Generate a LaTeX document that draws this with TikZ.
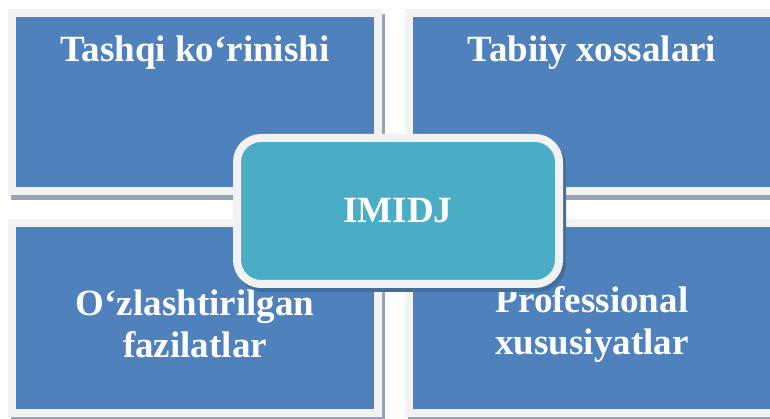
\documentclass[tikz,border=0pt]{standalone}
\usepackage{fontspec}
\setmainfont{Liberation Serif}
\usepackage{xcolor}
\usepackage{tikz}
\usetikzlibrary{shapes, shadows, positioning, calc}

\definecolor{boxblue}{HTML}{4F81BD}
\definecolor{edgegray}{HTML}{F2F2F2}
\definecolor{shadegray}{HTML}{97A4B5}
\definecolor{coreteal}{HTML}{4BACC6}
\definecolor{coreshade}{HTML}{41709C}

\begin{document}
\begin{tikzpicture}[x=1pt, y=-1pt,
    part/.style={rectangle, draw=edgegray, line width=8pt, fill=boxblue, inner sep=0pt, outer sep=0pt, minimum width=366pt,
        drop shadow={shadow xshift=2.5pt, shadow yshift=-5pt, fill=shadegray, draw=shadegray, line width=8pt, opacity=1}},
    core/.style={rectangle, rounded corners=24pt, draw=edgegray, line width=8pt, fill=coreteal, inner sep=0pt, outer sep=0pt,
        minimum width=322pt, minimum height=146pt,
        drop shadow={shadow xshift=3pt, shadow yshift=-4pt, fill=coreshade, draw=coreshade, line width=8pt, opacity=1}},
    caption/.style={text=white, font=\fontsize{37}{42}\selectfont\bfseries, align=center}]
    \useasboundingbox (0,0) rectangle (770,419);
    \clip (0,0) rectangle (770,419);

    % four quarters
    \node [part, minimum height=178.5pt] (look) at (195,102.25) {};
    \node [part, minimum height=178.5pt, right=31pt of look] (nature) {};
    \node [part, minimum height=189pt, below=32pt of look] (gained) {};
    \node [part, minimum height=189pt, right=31pt of gained] (profi) {};

    \node [caption, anchor=base] (looktext) at ($(look.north)+(0,49)$) {Tashqi ko‘rinishi};
    \node [caption, anchor=base] (naturetext) at ($(nature.north)+(0,49)$) {Tabiiy xossalari};
    \node [caption] (gainedtext) at ($(gained.center)+(0,6)$) {O‘zlashtirilgan\\fazilatlar};
    \node [caption] (profitext) at ($(profi.center)+(0,6)$) {Professional\\xususiyatlar};

    % centre
    \node [core, caption] (imidj) at (398,211) {IMIDJ};
\end{tikzpicture}
\end{document}
